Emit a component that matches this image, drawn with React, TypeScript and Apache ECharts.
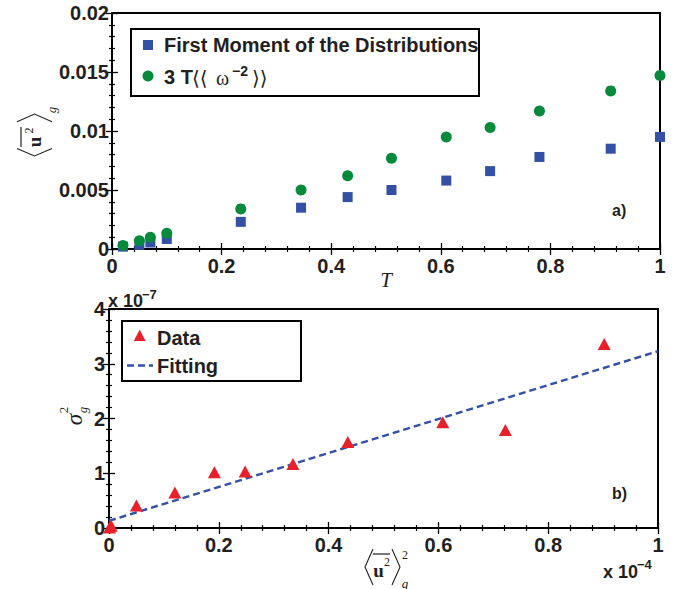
import React, { useEffect, useRef } from "react";
import * as echarts from "echarts";

// Panel a)
const tValues = [0.02, 0.05, 0.07, 0.1, 0.235, 0.345, 0.43, 0.51, 0.61, 0.69, 0.78, 0.91, 1.0];
const firstMoment = [0.0002, 0.00035, 0.00055, 0.00085, 0.0023, 0.0035, 0.0044, 0.005, 0.0058, 0.0066, 0.0078, 0.0085, 0.0095];
const threeTOmega = [0.0003, 0.0007, 0.001, 0.00133, 0.0034, 0.005, 0.0062, 0.0077, 0.0095, 0.0103, 0.0117, 0.0134, 0.0147];

// Panel b) (x in units of 1e-4, y in units of 1e-7)
const u2Squared = [0.001, 0.004, 0.05, 0.12, 0.192, 0.248, 0.335, 0.435, 0.608, 0.722, 0.902];
const sigmaSq = [0.01, 0.04, 0.41, 0.65, 1.02, 1.03, 1.17, 1.57, 1.93, 1.79, 3.36];
const fitX = [0, 1];
const fitY = [0.13, 3.23];

const BLUE = "#3450a4";
const GREEN = "#078a3c";
const RED = "#e8202a";
const INK = "#231f20";
const SANS = "'Liberation Sans', Arial, Helvetica, sans-serif";
const SERIF = "'Liberation Serif', 'DejaVu Serif', serif";

function fmt(v: number) {
  return String(parseFloat(v.toFixed(4)));
}

function axisCommon(grid: number, min: number, max: number, interval: number, showLabel: boolean, margin: number) {
  return {
    type: "value",
    gridIndex: grid,
    min,
    max,
    interval,
    axisLine: { show: false },
    axisTick: { show: true, inside: true, length: 6, lineStyle: { color: "#000", width: 1.3 } },
    minorTick: { show: true, splitNumber: 5, length: 3, lineStyle: { color: "#000", width: 1.2 } },
    splitLine: { show: false },
    minorSplitLine: { show: false },
    axisLabel: {
      show: showLabel,
      fontSize: 20,
      fontWeight: "bold",
      color: INK,
      fontFamily: SANS,
      margin,
      formatter: (v: number) => fmt(v),
    },
  };
}

function txt(x: number, y: number, text: string, font: string, align = "left", vAlign = "middle") {
  return {
    type: "text",
    x,
    y,
    silent: true,
    style: {
      text,
      font,
      fill: INK,
      textAlign: align,
      align,
      textVerticalAlign: vAlign,
      verticalAlign: vAlign,
    },
  };
}

function poly(points: number[][], stroke = INK, lineWidth = 1.1) {
  return {
    type: "polyline",
    silent: true,
    shape: { points },
    style: { stroke, fill: "none", lineWidth },
  };
}

export default function App() {
  const ref = useRef<HTMLDivElement>(null);
  useEffect(() => {
    if (!ref.current) return;
    const chart = echarts.init(ref.current, undefined, { renderer: "svg" });
    const option: any = {
      animation: false,
      backgroundColor: "#fff",
      grid: [
        { left: 112, top: 13, width: 548, height: 236, show: true, borderColor: "#000", borderWidth: 2, backgroundColor: "transparent" },
        { left: 109, top: 309, width: 549, height: 219, show: true, borderColor: "#000", borderWidth: 2, backgroundColor: "transparent" },
      ],
      xAxis: [
        { ...axisCommon(0, 0, 1, 0.2, true, 7), position: "bottom" },
        { ...axisCommon(0, 0, 1, 0.2, false, 7), position: "top" },
        { ...axisCommon(1, 0, 1, 0.2, true, 7), position: "bottom" },
        { ...axisCommon(1, 0, 1, 0.2, false, 7), position: "top" },
      ],
      yAxis: [
        { ...axisCommon(0, 0, 0.02, 0.005, true, 3), position: "left" },
        { ...axisCommon(0, 0, 0.02, 0.005, false, 3), position: "right" },
        { ...axisCommon(1, 0, 4, 1, true, 4), position: "left" },
        { ...axisCommon(1, 0, 4, 1, false, 4), position: "right" },
      ],
      series: [
        {
          name: "First Moment of the Distributions",
          type: "scatter",
          xAxisIndex: 0,
          yAxisIndex: 0,
          symbol: "rect",
          symbolSize: 10,
          itemStyle: { color: BLUE, opacity: 1 },
          data: tValues.map((t, i) => [t, firstMoment[i]]),
          z: 3,
        },
        {
          name: "3 T⟨⟨ ω^-2 ⟩⟩",
          type: "scatter",
          xAxisIndex: 0,
          yAxisIndex: 0,
          symbol: "circle",
          symbolSize: 11,
          itemStyle: { color: GREEN, opacity: 1 },
          data: tValues.map((t, i) => [t, threeTOmega[i]]),
          z: 4,
        },
        {
          name: "Fitting",
          type: "line",
          xAxisIndex: 2,
          yAxisIndex: 2,
          symbol: "none",
          lineStyle: { color: BLUE, width: 2.5, type: [7, 4] },
          data: fitX.map((x, i) => [x, fitY[i]]),
          z: 3,
        },
        {
          name: "Data",
          type: "scatter",
          xAxisIndex: 2,
          yAxisIndex: 2,
          symbol: "triangle",
          symbolSize: [13, 12],
          itemStyle: { color: RED, opacity: 1 },
          data: u2Squared.map((x, i) => [x, sigmaSq[i]]),
          z: 4,
        },
      ],
      graphic: [
        // Legend a)
        { type: "rect", silent: true, shape: { x: 131, y: 29, width: 348, height: 67 }, style: { fill: "#fff", stroke: "#000", lineWidth: 2 }, z: 10 },
        { type: "rect", silent: true, shape: { x: 143, y: 40, width: 10, height: 10 }, style: { fill: BLUE }, z: 11 },
        { type: "circle", silent: true, shape: { cx: 148, cy: 76, r: 5.5 }, style: { fill: GREEN }, z: 11 },
        { ...txt(164, 45, "First Moment of the Distributions", `bold 20px ${SANS}`), z: 11 },
        { ...txt(164, 77, "3 T", `bold 20px ${SANS}`), z: 11 },
        { ...txt(192, 78, "⟨⟨", `20px ${SERIF}`), z: 11 },
        { ...txt(216, 78, "ω", `20px ${SERIF}`), z: 11 },
        { ...txt(232, 71, "−2", `bold 14px ${SANS}`), z: 11 },
        { ...txt(252, 78, "⟩⟩", `20px ${SERIF}`), z: 11 },
        // Legend b)
        { type: "rect", silent: true, shape: { x: 122, y: 321, width: 179, height: 60 }, style: { fill: "#fff", stroke: "#000", lineWidth: 2 }, z: 10 },
        { type: "polygon", silent: true, shape: { points: [[139.7, 329.5], [133.8, 341], [145.6, 341]] }, style: { fill: RED }, z: 11 },
        { type: "line", silent: true, shape: { x1: 127, y1: 365.5, x2: 153, y2: 365.5 }, style: { stroke: BLUE, lineWidth: 2.5, lineDash: [7, 4] }, z: 11 },
        { ...txt(157, 338, "Data", `bold 20px ${SANS}`), z: 11 },
        { ...txt(157, 366, "Fitting", `bold 20px ${SANS}`), z: 11 },
        // panel tags
        { ...txt(612, 210, "a)", `bold 16px ${SANS}`), z: 11 },
        { ...txt(612, 493, "b)", `bold 16px ${SANS}`), z: 11 },
        // x-axis name a)
        { ...txt(386, 280, "T", `italic 21px ${SERIF}`, "center"), z: 11 },
        // multipliers
        { ...txt(108, 301, "x 10", `bold 18px ${SANS}`), z: 11 },
        { ...txt(142, 294, "−7", `bold 13px ${SANS}`), z: 11 },
        { ...txt(603, 572, "x 10", `bold 18px ${SANS}`), z: 11 },
        { ...txt(637, 564, "−4", `bold 13px ${SANS}`), z: 11 },
        // y-axis name a): <u^2-bar>_g rotated
        {
          type: "group",
          x: 17,
          y: 157,
          rotation: Math.PI / 2,
          silent: true,
          children: [
            poly([[8.5, 0], [1, 17.5], [8.5, 35]]),
            poly([[35.3, 0], [43, 17.5], [35.3, 35]]),
            { type: "line", shape: { x1: 10, y1: 4, x2: 30, y2: 4 }, style: { stroke: INK, lineWidth: 1.2 } },
            txt(15, 17, "u", `bold 19px ${SERIF}`, "center"),
            txt(26.5, 12, "2", `12px ${SERIF}`, "center"),
            txt(47, 34, "g", `italic 13px ${SERIF}`, "center"),
          ],
        },
        // y-axis name b): sigma_g^2 rotated
        {
          type: "group",
          x: 74.5,
          y: 427,
          rotation: Math.PI / 2,
          silent: true,
          children: [
            txt(7.5, 0, "σ", `italic 23px ${SERIF}`, "center"),
            txt(17, -11, "2", `13px ${SERIF}`, "center"),
            txt(17, 8, "g", `italic 13px ${SERIF}`, "center"),
          ],
        },
        // x-axis name b): <u^2-bar>_g^2
        poly([[373, 549], [365, 567], [373, 585]]),
        poly([[392, 549], [400, 567], [392, 585]]),
        { type: "line", silent: true, shape: { x1: 373, y1: 554, x2: 390, y2: 554 }, style: { stroke: INK, lineWidth: 1.2 } },
        txt(378.5, 570, "u", `bold 19px ${SERIF}`, "center"),
        txt(387, 562, "2", `12px ${SERIF}`, "center"),
        txt(405, 555, "2", `12px ${SERIF}`, "center"),
        txt(405, 583, "g", `italic 13px ${SERIF}`, "center"),
      ],
    };
    chart.setOption(option);
    return () => chart.dispose();
  }, []);
  return <div ref={ref} style={{ position: "absolute", left: 0, top: 0, width: 685, height: 589 }} />;
}
